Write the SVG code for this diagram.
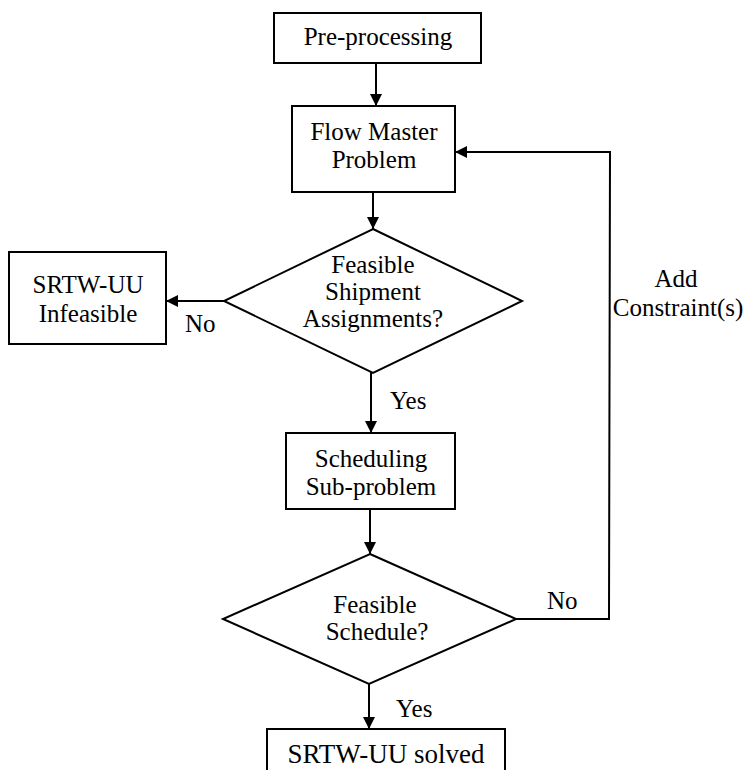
<svg xmlns="http://www.w3.org/2000/svg" width="748" height="770" viewBox="0 0 748 770">
  <defs>
    <marker id="arrow" viewBox="0 0 12 12" refX="12" refY="6" markerWidth="12" markerHeight="12" markerUnits="userSpaceOnUse" orient="auto">
      <path d="M0,0 L12,6 L0,12 Z" fill="#000"/>
    </marker>
  </defs>
  <style>
    .box { fill: #fff; stroke: #000; stroke-width: 2; }
    .edge { fill: none; stroke: #000; stroke-width: 2; marker-end: url(#arrow); }
    .line { fill: none; stroke: #000; stroke-width: 2; }
    text { font-family: "Liberation Serif", "Times New Roman", serif; font-size: 25px; fill: #000; text-anchor: middle; }
    .lbl { text-anchor: start; }
  </style>
  <rect width="748" height="770" fill="#fff"/>

  <!-- connectors -->
  <g id="connectors">
    <line class="edge" x1="376" y1="63" x2="376" y2="106"/>
    <line class="edge" x1="373" y1="192" x2="373" y2="229"/>
    <line class="edge" x1="224" y1="301" x2="166" y2="301"/>
    <line class="edge" x1="371" y1="372" x2="371" y2="433"/>
    <line class="edge" x1="370" y1="509" x2="370" y2="554"/>
    <line class="edge" x1="369" y1="684" x2="369" y2="729"/>
    <polyline class="edge" points="516,619 609,619 610,152 455,152"/>
    <text class="lbl" x="185" y="332">No</text>
    <text class="lbl" x="390" y="409">Yes</text>
    <text class="lbl" x="547" y="609">No</text>
    <text class="lbl" x="396" y="717">Yes</text>
    <text x="676" y="287">Add</text>
    <text x="678" y="316">Constraint(s)</text>
  </g>

  <g id="preprocessing">
    <rect class="box" x="274" y="13" width="207" height="50"/>
    <text x="378" y="45">Pre-processing</text>
  </g>

  <g id="flow-master">
    <rect class="box" x="292" y="106" width="163" height="86"/>
    <text x="374" y="140">Flow Master</text>
    <text x="374" y="168">Problem</text>
  </g>

  <g id="feasible-assignments">
    <polygon class="box" points="373,229 522,301 373,373 224,301"/>
    <text x="373" y="273">Feasible</text>
    <text x="373" y="300">Shipment</text>
    <text x="373" y="327">Assignments?</text>
  </g>

  <g id="infeasible">
    <rect class="box" x="9" y="252" width="157" height="92"/>
    <text x="88" y="293">SRTW-UU</text>
    <text x="88" y="322">Infeasible</text>
  </g>

  <g id="scheduling">
    <rect class="box" x="286" y="433" width="169" height="76"/>
    <text x="371" y="467">Scheduling</text>
    <text x="371" y="495">Sub-problem</text>
  </g>

  <g id="feasible-schedule">
    <polygon class="box" points="370,554 516,619 369,684 223,619"/>
    <text x="375" y="613">Feasible</text>
    <text x="377" y="640">Schedule?</text>
  </g>

  <g id="solved">
    <rect class="box" x="267" y="729" width="238" height="60"/>
    <text x="386" y="763" style="font-size:27px">SRTW-UU solved</text>
  </g>
</svg>
